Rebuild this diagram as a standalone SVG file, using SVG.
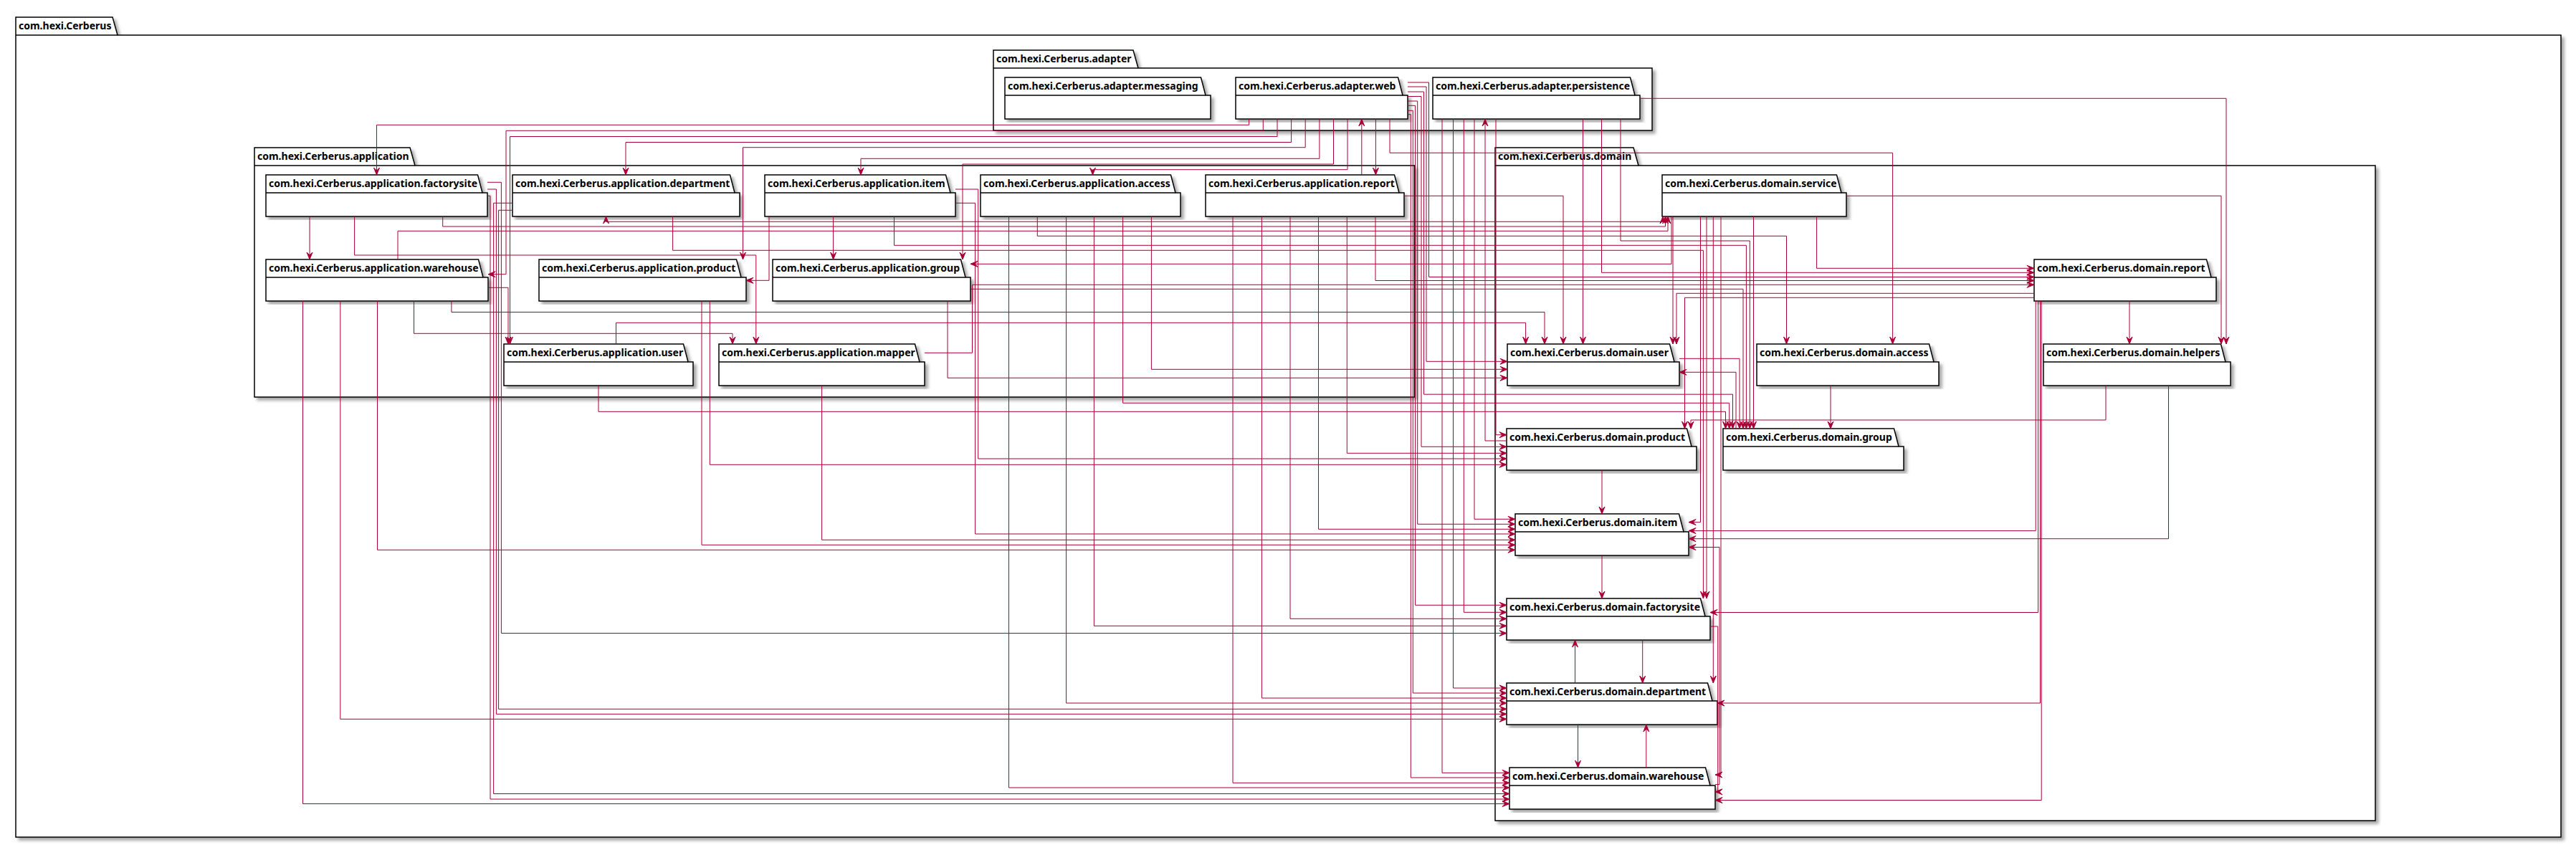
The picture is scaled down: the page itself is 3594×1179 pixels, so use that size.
<svg xmlns="http://www.w3.org/2000/svg" width="3594" height="1179" viewBox="0 0 3594 1179">
<defs>
<filter id="sh" x="-2%" y="-2%" width="106%" height="110%">
<feGaussianBlur in="SourceAlpha" stdDeviation="2"/>
<feOffset dx="4" dy="4" result="b"/>
<feFlood flood-color="#000" flood-opacity="0.35"/>
<feComposite in2="b" operator="in"/>
<feMerge><feMergeNode/><feMergeNode in="SourceGraphic"/></feMerge>
</filter>
<marker id="a" viewBox="-11 -5 12 10" refX="0" refY="0" markerWidth="12" markerHeight="10" markerUnits="userSpaceOnUse" orient="auto"><path d="M0,0 L-10,-4 L-6,0 L-10,4 Z" fill="#A80036" stroke="#A80036" stroke-width="1"/></marker>
<marker id="as" viewBox="-11 -5 12 10" refX="0" refY="0" markerWidth="12" markerHeight="10" markerUnits="userSpaceOnUse" orient="auto-start-reverse"><path d="M0,0 L-10,-4 L-6,0 L-10,4 Z" fill="#A80036" stroke="#A80036" stroke-width="1"/></marker>
</defs>
<style>
.pk{fill:#fff;stroke:#000;stroke-width:1.5;filter:url(#sh)}
.sep{fill:none;stroke:#000;stroke-width:1.5}
.t{font-family:"Noto Sans","DejaVu Sans",sans-serif;font-weight:bold;font-size:14px;fill:#000}
.c path{fill:none;stroke:#A80036;stroke-width:1;marker-end:url(#a)}
</style>
<rect width="3594" height="1179" fill="#fff"/>
<g id="pkg-cerberus"><path class="pk" d="M22,24 H157 L164,49 H3573 V1168 H22 Z"/><path class="sep" d="M22,49 H164"/><text class="t" x="26" y="41">com.hexi.Cerberus</text></g>
<g id="pkg-adapter"><path class="pk" d="M1386,70 H1581 L1588,95 H2305 V182 H1386 Z"/><path class="sep" d="M1386,95 H1588"/><text class="t" x="1390" y="87">com.hexi.Cerberus.adapter</text></g>
<g id="pkg-application"><path class="pk" d="M355,206 H572 L579,231 H1973.5 V554 H355 Z"/><path class="sep" d="M355,231 H579"/><text class="t" x="359" y="223">com.hexi.Cerberus.application</text></g>
<g id="pkg-domain"><path class="pk" d="M2086,206 H2279 L2286,231 H3314 V1145 H2086 Z"/><path class="sep" d="M2086,231 H2286"/><text class="t" x="2090" y="223">com.hexi.Cerberus.domain</text></g>

<g id="adapter-messaging"><path class="pk" d="M1402,108 H1675.5 L1682,133 H1689 V166 H1402 Z"/><path class="sep" d="M1402,133 H1682"/><text class="t" x="1406" y="125">com.hexi.Cerberus.adapter.messaging</text></g>
<g id="adapter-web"><path class="pk" d="M1724,108 H1950.5 L1957,133 H1964 V166 H1724 Z"/><path class="sep" d="M1724,133 H1957"/><text class="t" x="1728" y="125">com.hexi.Cerberus.adapter.web</text></g>
<g id="adapter-persistence"><path class="pk" d="M1999,108 H2274.5 L2281,133 H2288 V166 H1999 Z"/><path class="sep" d="M1999,133 H2281"/><text class="t" x="2003" y="125">com.hexi.Cerberus.adapter.persistence</text></g>

<g id="app-factorysite"><path class="pk" d="M371,244 H666.5 L673,269 H680 V302 H371 Z"/><path class="sep" d="M371,269 H673"/><text class="t" x="375" y="261">com.hexi.Cerberus.application.factorysite</text></g>
<g id="app-department"><path class="pk" d="M715,244 H1018.5 L1025,269 H1032 V302 H715 Z"/><path class="sep" d="M715,269 H1025"/><text class="t" x="719" y="261">com.hexi.Cerberus.application.department</text></g>
<g id="app-item"><path class="pk" d="M1067,244 H1319.5 L1326,269 H1333 V302 H1067 Z"/><path class="sep" d="M1067,269 H1326"/><text class="t" x="1071" y="261">com.hexi.Cerberus.application.item</text></g>
<g id="app-access"><path class="pk" d="M1368,244 H1633.5 L1640,269 H1647 V302 H1368 Z"/><path class="sep" d="M1368,269 H1640"/><text class="t" x="1372" y="261">com.hexi.Cerberus.application.access</text></g>
<g id="app-report"><path class="pk" d="M1682,244 H1945.5 L1952,269 H1959 V302 H1682 Z"/><path class="sep" d="M1682,269 H1952"/><text class="t" x="1686" y="261">com.hexi.Cerberus.application.report</text></g>
<g id="app-warehouse"><path class="pk" d="M371,362 H667.5 L674,387 H681 V420 H371 Z"/><path class="sep" d="M371,387 H674"/><text class="t" x="375" y="379">com.hexi.Cerberus.application.warehouse</text></g>
<g id="app-product"><path class="pk" d="M752,362 H1027.5 L1034,387 H1041 V420 H752 Z"/><path class="sep" d="M752,387 H1034"/><text class="t" x="756" y="379">com.hexi.Cerberus.application.product</text></g>
<g id="app-group"><path class="pk" d="M1078,362 H1340.5 L1347,387 H1354 V420 H1078 Z"/><path class="sep" d="M1078,387 H1347"/><text class="t" x="1082" y="379">com.hexi.Cerberus.application.group</text></g>
<g id="app-user"><path class="pk" d="M703,480 H953.5 L960,505 H967 V538 H703 Z"/><path class="sep" d="M703,505 H960"/><text class="t" x="707" y="497">com.hexi.Cerberus.application.user</text></g>
<g id="app-mapper"><path class="pk" d="M1003,480 H1276.5 L1283,505 H1290 V538 H1003 Z"/><path class="sep" d="M1003,505 H1283"/><text class="t" x="1007" y="497">com.hexi.Cerberus.application.mapper</text></g>

<g id="domain-service"><path class="pk" d="M2319,244 H2562.5 L2569,269 H2576 V302 H2319 Z"/><path class="sep" d="M2319,269 H2569"/><text class="t" x="2323" y="261">com.hexi.Cerberus.domain.service</text></g>
<g id="domain-report"><path class="pk" d="M2838,362 H3078.5 L3085,387 H3092 V420 H2838 Z"/><path class="sep" d="M2838,387 H3085"/><text class="t" x="2842" y="379">com.hexi.Cerberus.domain.report</text></g>
<g id="domain-user"><path class="pk" d="M2103,480 H2329.5 L2336,505 H2343 V538 H2103 Z"/><path class="sep" d="M2103,505 H2336"/><text class="t" x="2107" y="497">com.hexi.Cerberus.domain.user</text></g>
<g id="domain-access"><path class="pk" d="M2451,480 H2691.5 L2698,505 H2705 V538 H2451 Z"/><path class="sep" d="M2451,505 H2698"/><text class="t" x="2455" y="497">com.hexi.Cerberus.domain.access</text></g>
<g id="domain-helpers"><path class="pk" d="M2851,480 H3098.5 L3105,505 H3112 V538 H2851 Z"/><path class="sep" d="M2851,505 H3105"/><text class="t" x="2855" y="497">com.hexi.Cerberus.domain.helpers</text></g>
<g id="domain-product"><path class="pk" d="M2102,598 H2353.5 L2360,623 H2367 V656 H2102 Z"/><path class="sep" d="M2102,623 H2360"/><text class="t" x="2106" y="615">com.hexi.Cerberus.domain.product</text></g>
<g id="domain-group"><path class="pk" d="M2404,598 H2642.5 L2649,623 H2656 V656 H2404 Z"/><path class="sep" d="M2404,623 H2649"/><text class="t" x="2408" y="615">com.hexi.Cerberus.domain.group</text></g>
<g id="domain-item"><path class="pk" d="M2114,717 H2342.5 L2349,742 H2356 V775 H2114 Z"/><path class="sep" d="M2114,742 H2349"/><text class="t" x="2118" y="734">com.hexi.Cerberus.domain.item</text></g>
<g id="domain-factorysite"><path class="pk" d="M2102,835 H2372.5 L2379,860 H2386 V893 H2102 Z"/><path class="sep" d="M2102,860 H2379"/><text class="t" x="2106" y="852">com.hexi.Cerberus.domain.factorysite</text></g>
<g id="domain-department"><path class="pk" d="M2102,953 H2382.5 L2389,978 H2396 V1011 H2102 Z"/><path class="sep" d="M2102,978 H2389"/><text class="t" x="2106" y="970">com.hexi.Cerberus.domain.department</text></g>
<g id="domain-warehouse"><path class="pk" d="M2106,1071 H2379.5 L2386,1096 H2393 V1129 H2106 Z"/><path class="sep" d="M2106,1096 H2386"/><text class="t" x="2110" y="1088">com.hexi.Cerberus.domain.warehouse</text></g>

<g id="connectors" class="c">
<path d="M1742.6,166 V174.3 H525.5 V244"/>
<path d="M1762.3,166 V182.3 H706 V382.7 H681"/>
<path d="M1782,166 V190.5 H711.5 V480"/>
<path d="M1801.6,166 V198.5 H873 V244"/>
<path d="M1821.2,166 V205.7 H1036.5 V362"/>
<path d="M1840.9,166 V221.3 H1201 V244"/>
<path d="M1860.5,166 V229 H1343 V362"/>
<path d="M1880,166 V236.7 H1524.5 V244"/>
<path d="M1899.8,244 V166"/>
<path d="M1919.4,166 V244"/>
<path d="M1939,166 V213.3 H2640.6 V480"/>
<path d="M1964,115 H1993.5 V386.5 H2838"/>
<path d="M1964,121 H1990 V504.3 H2103"/>
<path d="M1964,128 H1986.5 V550.2 H2417.5 V598"/>
<path d="M1964,134.5 H1983 V623.3 H2102"/>
<path d="M1964,141 H1977.7 V731.3 H2114"/>
<path d="M1964,147.3 H1974.6 V844.3 H2102"/>
<path d="M1964,154.3 H1971.3 V967 H2102"/>
<path d="M1964,159.7 H1968.3 V1085 H2106"/>
<path d="M2012,166 V1078.3 H2106"/>
<path d="M2027.5,166 V960 H2102"/>
<path d="M2042.3,166 V854.3 H2102"/>
<path d="M2057,166 V724.3 H2114"/>
<path d="M2102,615 H2072 V166"/>
<path d="M2087,166 V606.7 H2102"/>
<path d="M2208.5,166 V480"/>
<path d="M2234.5,166 V380.3 H2838"/>
<path d="M2261,166 V336 H2441.3 V598"/>
<path d="M2288,137.3 H3106 V480"/>
<path d="M432,302 V362"/>
<path d="M494.6,302 V356 H1054.8 V480"/>
<path d="M617.7,302 V316 H2323.5 V302"/>
<path d="M680,254.3 H699.4 V883.5 H2102"/>
<path d="M680,264 H692.4 V996.3 H2102"/>
<path d="M680,273.3 H684 V1115 H2106"/>
<path d="M715,283.3 H688.6 V1107.5 H2106"/>
<path d="M715,293.3 H695.6 V989.3 H2102"/>
<path d="M938.6,302 V349.3 H2376.4 V835"/>
<path d="M2320,302 V309.3 H845.5 V302" marker-start="url(#as)"/>
<path d="M1073,302 V391.3 H1041"/>
<path d="M1162.6,302 V362"/>
<path d="M1247.5,302 V342.3 H2436.4 V598"/>
<path d="M1333,264 H1364.7 V640 H2102"/>
<path d="M1333,283.3 H1360.6 V745 H2114"/>
<path d="M1407.5,302 V1099 H2106"/>
<path d="M1447.3,302 V329.3 H2492.5 V480"/>
<path d="M1487.6,302 V981 H2102"/>
<path d="M1526.4,302 V873.3 H2102"/>
<path d="M1566.6,302 V562.3 H2412.7 V598"/>
<path d="M1606.4,302 V515.3 H2103"/>
<path d="M1720,302 V1092.3 H2106"/>
<path d="M1760.4,302 V974 H2102"/>
<path d="M1800,302 V863.3 H2102"/>
<path d="M1839.5,302 V738.3 H2114"/>
<path d="M1879.3,302 V632.3 H2102"/>
<path d="M1919,302 V391.5 H2838"/>
<path d="M1959,273.3 H2181 V480"/>
<path d="M555,362 V322.3 H2327 V302"/>
<path d="M681,401.3 H709 V480"/>
<path d="M422.5,420 V1121.5 H2106"/>
<path d="M474.8,420 V1003.3 H2102"/>
<path d="M526.5,420 V767.3 H2114"/>
<path d="M577.5,420 V465.3 H1022 V480"/>
<path d="M629.9,420 V435.5 H2155 V480"/>
<path d="M979,420 V760.3 H2114"/>
<path d="M990.3,420 V648.3 H2102"/>
<path d="M1322,420 V527.3 H2103"/>
<path d="M1354,403.3 H2432 V598"/>
<path d="M2332,302 V368.3 H1354"/>
<path d="M859.5,480 V450.3 H2128.6 V480"/>
<path d="M835,538 V574.3 H2407.5 V598"/>
<path d="M1146.6,538 V753.3 H2114"/>
<path d="M1290,492.3 H1356.5 V397.3 H2838"/>
<path d="M2334,302 V480"/>
<path d="M2372.5,302 V728.6 H2356"/>
<path d="M2381,302 V835"/>
<path d="M2390.3,302 V953"/>
<path d="M2401,302 V1081 H2393"/>
<path d="M2446.5,302 V598"/>
<path d="M2534.6,302 V374.3 H2838"/>
<path d="M2576,273.3 H3099 V480"/>
<path d="M2838,409.3 H2339 V480"/>
<path d="M2838,415.3 H2350.5 V598"/>
<path d="M2840.2,420 V740.6 H2356"/>
<path d="M2843.6,420 V854.5 H2386"/>
<path d="M2846.5,420 V981 H2396"/>
<path d="M2848.2,420 V1116.5 H2393"/>
<path d="M2971,420 V480"/>
<path d="M2938,538 V586 H2359 V598"/>
<path d="M3025.5,538 V751.7 H2356"/>
<path d="M2554,538 V598"/>
<path d="M2343,500.3 H2427 V598"/>
<path d="M2422,598 V519.3 H2343"/>
<path d="M2235,656 V717"/>
<path d="M2235,775 V835"/>
<path d="M2291.7,893 V953"/>
<path d="M2197.5,953 V893"/>
<path d="M2201.5,1011 V1071"/>
<path d="M2296.8,1071 V1011"/>
<path d="M2386,874 H2396.7 V1104.8 H2393"/>
<path d="M2393,1094.6 H2399 V763.5 H2356"/>
</g>
</svg>
